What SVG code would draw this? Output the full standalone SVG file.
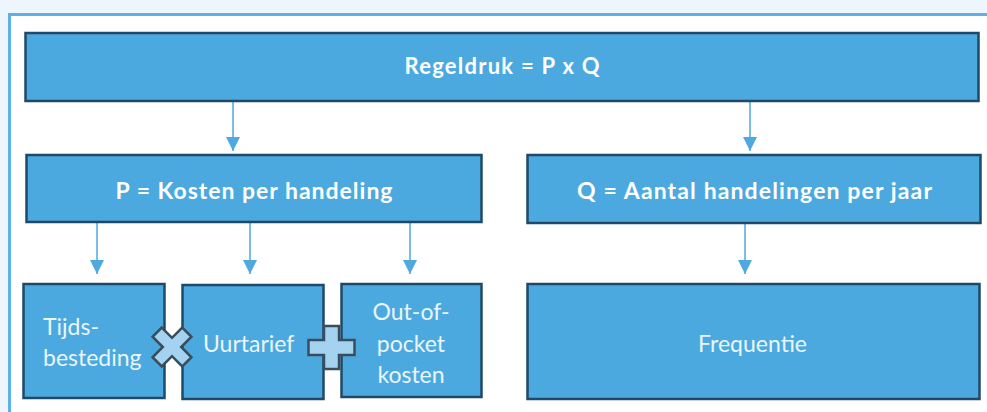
<svg xmlns="http://www.w3.org/2000/svg" width="987" height="412" viewBox="0 0 987 412">
<style>
.box{fill:#4BA9E0;stroke:#1E4A68;stroke-width:2.5}
.t{font-family:Lato,"Open Sans","Liberation Sans",sans-serif;fill:#FFFFFF}
.b{font-weight:bold;font-size:23px}
.r{font-size:23px;fill:#EAF5FC}
.c{text-anchor:middle}
.conn line{stroke:#4EA9E0;stroke-width:1.5;marker-end:url(#ah)}
.op{fill:#A3D3F0;stroke:#3A4D5A;stroke-width:2.5;stroke-linejoin:miter}
</style>
<defs>
<marker id="ah" markerUnits="userSpaceOnUse" markerWidth="14" markerHeight="14" refX="14" refY="7" orient="auto">
<path d="M0,0 L14,7 L0,14 z" fill="#4EA9E0"/>
</marker>
</defs>
<rect x="0" y="0" width="987" height="412" fill="#EEF5FC"/>
<rect x="9.5" y="14.5" width="1000" height="500" fill="#FFFFFF" stroke="#5DB1E8" stroke-width="3"/>

<g id="connectors" class="conn">
<line x1="233" y1="102" x2="233" y2="151"/>
<line x1="750" y1="102" x2="750" y2="151"/>
<line x1="97" y1="223" x2="97" y2="274"/>
<line x1="250" y1="223" x2="250" y2="274"/>
<line x1="410" y1="223" x2="410" y2="274"/>
<line x1="745" y1="224" x2="745" y2="274"/>
</g>

<g id="regeldruk">
<rect class="box" x="25.5" y="33" width="953" height="68"/>
<text class="t b c" x="502" y="74" style="font-size:22px" textLength="195">Regeldruk = P x Q</text>
</g>
<g id="p">
<rect class="box" x="26.5" y="155" width="455" height="67"/>
<text class="t b c" x="254" y="199" textLength="277">P = Kosten per handeling</text>
</g>
<g id="q">
<rect class="box" x="527.5" y="155" width="453" height="68"/>
<text class="t b c" x="754.5" y="199" textLength="355">Q = Aantal handelingen per jaar</text>
</g>
<g id="tijdsbesteding">
<rect class="box" x="23.5" y="284" width="141" height="114"/>
<text class="t r" x="43" y="335">Tijds-</text>
<text class="t r" x="43" y="366">besteding</text>
</g>
<g id="uurtarief">
<rect class="box" x="182.5" y="285" width="141" height="114"/>
<text class="t r" x="203" y="352">Uurtarief</text>
</g>
<g id="outofpocket">
<rect class="box" x="341.5" y="284" width="140" height="113"/>
<text class="t r c" x="411" y="320">Out-of-</text>
<text class="t r c" x="411" y="352">pocket</text>
<text class="t r c" x="411" y="383">kosten</text>
</g>
<g id="frequentie">
<rect class="box" x="527.5" y="284" width="452" height="115"/>
<text class="t r c" x="752.5" y="352">Frequentie</text>
</g>
<g id="maal">
<polygon class="op" transform="translate(172 347) rotate(45)" points="-6.5,-21 6.5,-21 6.5,-6.5 21,-6.5 21,6.5 6.5,6.5 6.5,21 -6.5,21 -6.5,6.5 -21,6.5 -21,-6.5 -6.5,-6.5"/>
</g>
<g id="plus">
<polygon class="op" transform="translate(331.5 347.5)" points="-7.5,-21.5 7.5,-21.5 7.5,-7.5 23,-7.5 23,7.5 7.5,7.5 7.5,21.5 -7.5,21.5 -7.5,7.5 -23,7.5 -23,-7.5 -7.5,-7.5"/>
</g>
</svg>
